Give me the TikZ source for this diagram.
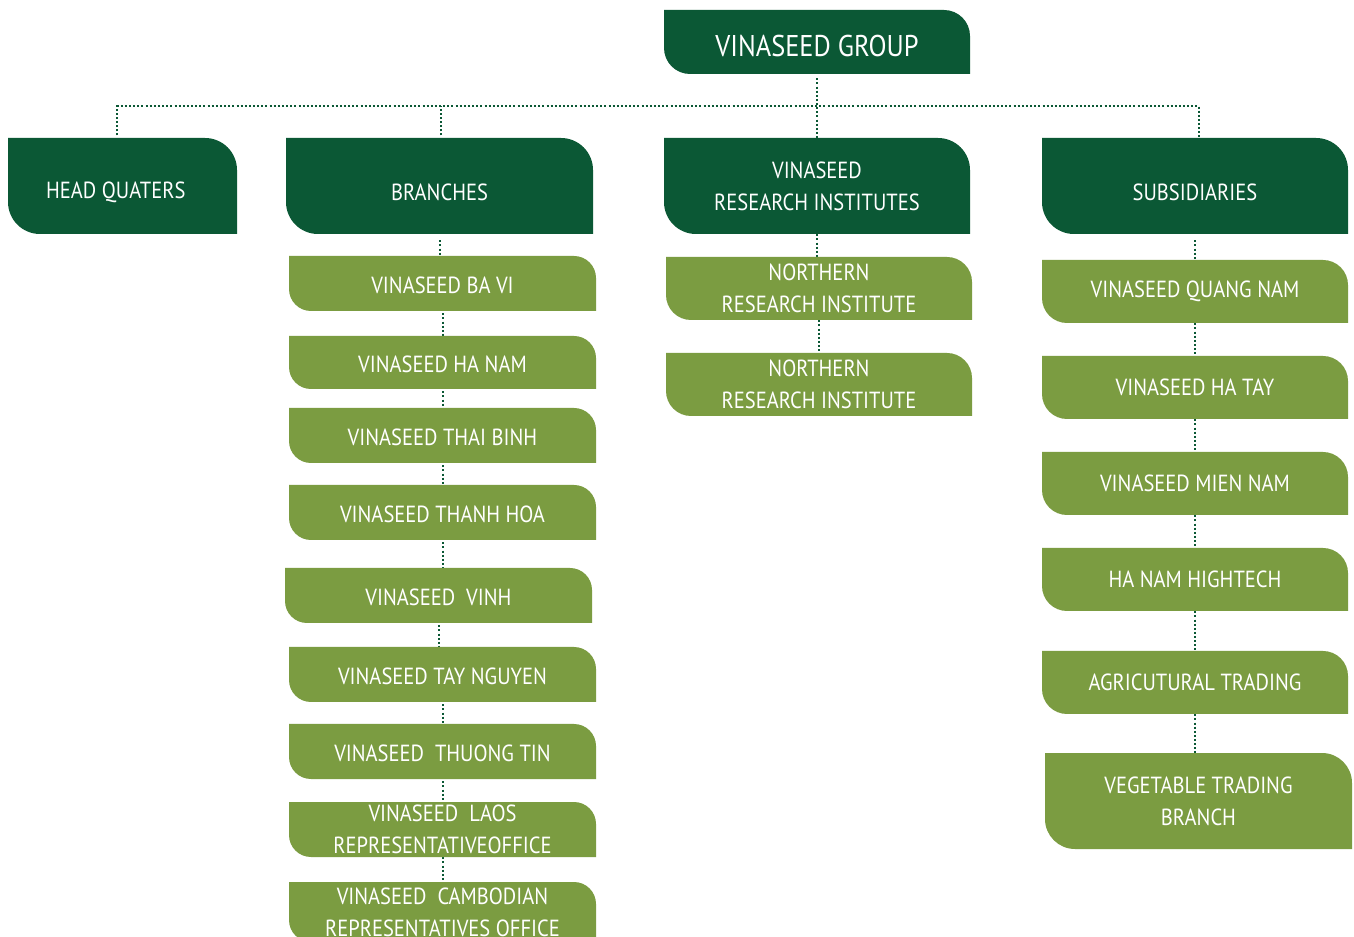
\documentclass[tikz,border=0pt]{standalone}
\usepackage{fontspec}
\setmainfont{PT Sans}[FakeStretch=0.88]
\definecolor{dkgreen}{HTML}{0B5835}
\definecolor{ltgreen}{HTML}{7B9C41}
\pgfdeclarelayer{bg}
\pgfsetlayers{bg,main}
\tikzset{
  boxtext/.style={inner sep=0pt, text=white, align=center, font=\fontsize{17.5}{24}\selectfont},
  bigtext/.style={boxtext, font=\fontsize{22.5}{26}\selectfont},
  conn/.style={draw=dkgreen, line width=1.5pt, dash pattern=on 1.5pt off 1.6pt},
}
% name, colour, x1, y1, x2, y2, radius(px), text style, text
\newcommand\leafbox[9]{%
  \fill[#2] (#3,#4) -- ({#5-#7},#4) arc[start angle=90,end angle=0,radius=#7*0.75pt]
     -- (#5,#6) -- ({#3+#7},#6) arc[start angle=270,end angle=180,radius=#7*0.75pt] -- cycle;
  \node[boxtext, minimum width={(#5-#3)*0.75pt}, minimum height={(#6-#4)*0.75pt}, #8]
     (#1) at ({(#3+#5)/2},{(#4+#6)/2}) {#9};
}
\begin{document}
\begin{tikzpicture}[x=0.75pt,y=-0.75pt]
\clip (0,0) rectangle (1354,937);
\begin{pgfonlayer}{bg}
\fill[white] (0,0) rectangle (1354,937);
\end{pgfonlayer}
% top level
\leafbox{group}{dkgreen}{664}{10}{970}{74}{26}{bigtext,yshift=-3pt}{VINASEED GROUP}
\leafbox{hq}{dkgreen}{8}{138}{237}{234}{32}{yshift=-4.5pt,xshift=-5pt}{HEAD QUATERS}
\leafbox{br}{dkgreen}{286}{138}{593}{234}{32}{yshift=-4.5pt}{BRANCHES}
\leafbox{ri}{dkgreen}{664}{138}{970}{234}{32}{}{VINASEED\\RESEARCH INSTITUTES}
\leafbox{sub}{dkgreen}{1042}{138}{1348}{234}{32}{yshift=-4.5pt}{SUBSIDIARIES}
% branches
\leafbox{b1}{ltgreen}{289}{256}{596}{311}{22}{yshift=-1.5pt}{VINASEED BA VI}
\leafbox{b2}{ltgreen}{289}{336}{596}{389}{22}{yshift=-1.5pt}{VINASEED HA NAM}
\leafbox{b3}{ltgreen}{289}{408}{596}{463}{22}{yshift=-1.5pt}{VINASEED THAI BINH}
\leafbox{b4}{ltgreen}{289}{485}{596}{540}{22}{yshift=-1.5pt}{VINASEED THANH HOA}
\leafbox{b5}{ltgreen}{285}{568}{592}{623}{22}{yshift=-1.5pt}{VINASEED\ \ VINH}
\leafbox{b6}{ltgreen}{289}{647}{596}{702}{22}{yshift=-1.5pt}{VINASEED TAY NGUYEN}
\leafbox{b7}{ltgreen}{289}{724}{596}{779}{22}{yshift=-1.5pt}{VINASEED\ \ THUONG TIN}
\leafbox{b8}{ltgreen}{289}{802}{596}{857}{22}{}{VINASEED\ \ LAOS\\REPRESENTATIVEOFFICE}
\leafbox{b9}{ltgreen}{289}{882}{596}{942}{22}{}{VINASEED\ \ CAMBODIAN\\REPRESENTATIVES OFFICE}
% research
\leafbox{r1}{ltgreen}{666}{257}{972}{320}{25}{}{NORTHERN\\RESEARCH INSTITUTE}
\leafbox{r2}{ltgreen}{666}{353}{972}{416}{25}{}{NORTHERN\\RESEARCH INSTITUTE}
% subsidiaries
\leafbox{s1}{ltgreen}{1042}{260}{1348}{323}{25}{}{VINASEED QUANG NAM}
\leafbox{s2}{ltgreen}{1042}{356}{1348}{419}{25}{}{VINASEED HA TAY}
\leafbox{s3}{ltgreen}{1042}{452}{1348}{515}{25}{}{VINASEED MIEN NAM}
\leafbox{s4}{ltgreen}{1042}{548}{1348}{611}{25}{}{HA NAM HIGHTECH}
\leafbox{s5}{ltgreen}{1042}{651}{1348}{714}{25}{}{AGRICUTURAL TRADING}
\leafbox{s6}{ltgreen}{1045}{753}{1352}{849}{30}{}{VEGETABLE TRADING\\BRANCH}
% connectors (behind the boxes)
\begin{pgfonlayer}{bg}
\coordinate (bus) at (0,106);
\draw[conn] ([xshift=1pt]hq.north) -- ([xshift=1pt]hq.north |- bus)
   -- ([xshift=3pt]sub.north |- bus) -- ([xshift=3pt]sub.north);
\draw[conn] ([xshift=1pt]br.north) -- ([xshift=1pt]br.north |- bus);
\draw[conn] (group.south) -- (ri.north);
\foreach \a/\b in {br/b1,b1/b2,b2/b3,b3/b4,b4/b5,b5/b6,b6/b7,b7/b8,b8/b9,
                   ri/r1,r1/r2,sub/s1,s1/s2,s2/s3,s3/s4,s4/s5,s5/s6}
  \draw[conn] (\a.south) -- (\a.south |- \b.north);
\end{pgfonlayer}
\end{tikzpicture}
\end{document}
